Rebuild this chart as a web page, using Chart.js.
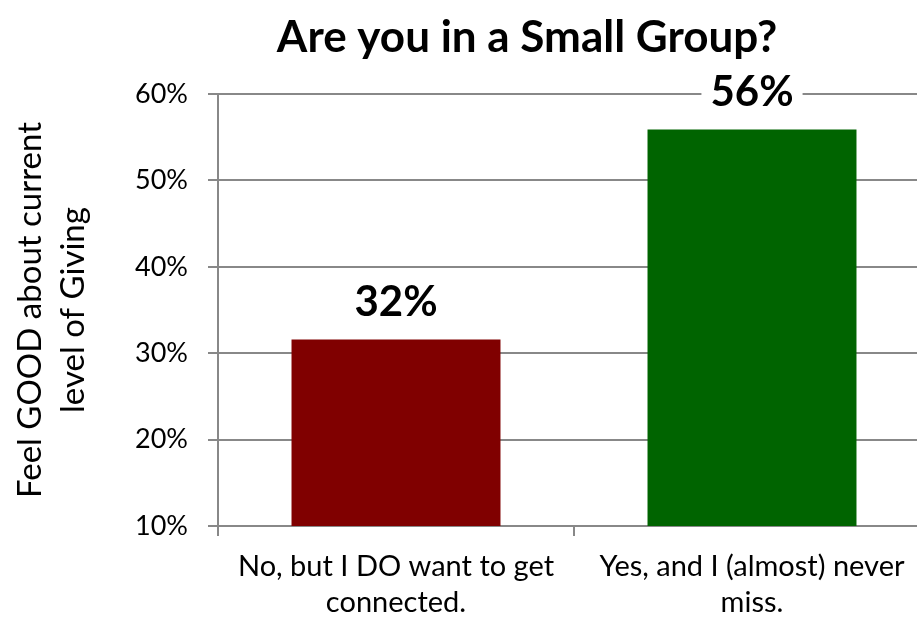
<!DOCTYPE html>
<html>
<head>
<meta charset="utf-8">
<script src="https://cdn.jsdelivr.net/npm/chart.js@4/dist/chart.umd.min.js"></script>
<style>
  html, body { margin: 0; padding: 0; background: #fff; overflow: hidden; }
  #wrap { width: 940px; height: 620px; }
</style>
</head>
<body>
<div id="wrap"><canvas id="groupChart" width="940" height="620"></canvas></div>
<script>
// chart data
const chartTitle = 'Are you in a Small Group?';
const categories = [
  ['No, but I DO want to get', 'connected.'],
  ['Yes, and I (almost) never', 'miss.']
];
const feelGood = [31.6, 55.9];
const yAxisTitle = ['Feel GOOD about current', 'level of Giving'];
const yMin = 10;
const yMax = 60;
const yStep = 10;

const barColors = ['#800000', '#006400'];
const gridGray = '#888888';
const fontFamily = 'Lato, "Open Sans", sans-serif';

// title is centred over the original drawing, not the canvas
const titlePlugin = {
  id: 'chartTitle',
  afterDraw(chart) {
    const ctx = chart.ctx;
    ctx.save();
    ctx.font = 'bold 44px ' + fontFamily;
    ctx.fillStyle = '#000';
    ctx.textAlign = 'center';
    ctx.textBaseline = 'middle';
    ctx.fillText(chartTitle, 527, 38);
    ctx.restore();
  }
};

// value labels with a white box behind them (cuts the gridlines)
const valueLabels = {
  id: 'valueLabels',
  afterDatasetsDraw(chart) {
    const ctx = chart.ctx;
    const meta = chart.getDatasetMeta(0);
    ctx.save();
    ctx.font = 'bold 42px ' + fontFamily;
    ctx.textAlign = 'center';
    ctx.textBaseline = 'middle';
    meta.data.forEach((bar, i) => {
      const text = Math.round(feelGood[i]) + '%';
      const w = ctx.measureText(text).width + 18;
      const cy = bar.y - 37;
      ctx.fillStyle = '#fff';
      ctx.fillRect(bar.x - w / 2, cy - 25, w, 50);
      ctx.fillStyle = '#000';
      ctx.fillText(text, bar.x, cy);
    });
    ctx.restore();
  }
};

window.addEventListener('load', function() {
  const ctx = document.getElementById('groupChart');
  new Chart(ctx, {
    type: 'bar',
    data: {
      labels: categories,
      datasets: [
        {
          data: feelGood,
          backgroundColor: barColors,
          borderWidth: 0,
          categoryPercentage: 1,
          barPercentage: 0.587
        }
      ]
    },
    options: {
      responsive: false,
      animation: false,
      layout: {
        padding: { top: 94, right: 10, bottom: 0, left: 0 }
      },
      scales: {
        x: {
          grid: {
            offset: true,
            drawOnChartArea: false,
            drawTicks: true,
            tickLength: 10,
            color: gridGray,
            lineWidth: 2
          },
          border: { color: gridGray, width: 2 },
          ticks: {
            color: '#000',
            padding: 13,
            maxRotation: 0,
            font: { family: fontFamily, size: 29, lineHeight: 1.24 }
          },
          afterFit(scale) {
            scale.height = 94;
          }
        },
        y: {
          min: yMin,
          max: yMax,
          grid: {
            color: gridGray,
            lineWidth: 2,
            tickLength: 10
          },
          border: { color: gridGray, width: 2 },
          ticks: {
            stepSize: yStep,
            color: '#000',
            padding: 20,
            font: { family: fontFamily, size: 27 },
            callback: value => value + '%'
          },
          title: {
            display: true,
            text: yAxisTitle,
            color: '#000',
            padding: { top: 8, bottom: 0 },
            font: { family: fontFamily, size: 33, lineHeight: 1.33 }
          },
          afterFit(scale) {
            scale.width = 218;
          }
        }
      },
      plugins: {
        legend: { display: false },
        tooltip: { enabled: false },
        title: { display: false }
      }
    },
    plugins: [titlePlugin, valueLabels]
  });
});
</script>
</body>
</html>
